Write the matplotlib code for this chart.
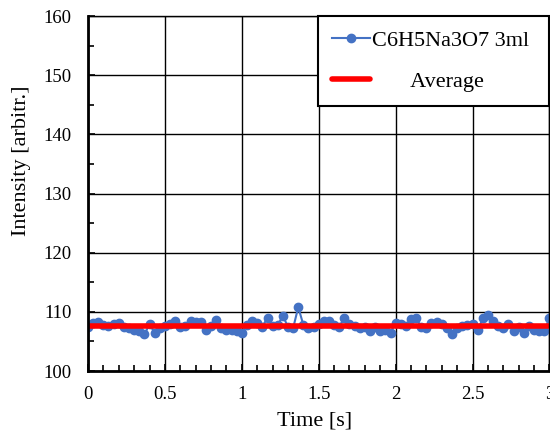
import numpy as np
import matplotlib.pyplot as plt
from matplotlib.ticker import MultipleLocator

plt.rcParams['font.family'] = ['Liberation Serif', 'DejaVu Serif']

time_s = [0.000, 0.033, 0.067, 0.100, 0.133, 0.167, 0.200, 0.233, 0.267, 0.300,
          0.333, 0.367, 0.400, 0.433, 0.467, 0.500, 0.533, 0.567, 0.600, 0.633,
          0.667, 0.700, 0.733, 0.767, 0.800, 0.833, 0.867, 0.900, 0.933, 0.967,
          1.000, 1.033, 1.067, 1.100, 1.133, 1.167, 1.200, 1.233, 1.267, 1.300,
          1.333, 1.367, 1.400, 1.433, 1.467, 1.500, 1.533, 1.567, 1.600, 1.633,
          1.667, 1.700, 1.733, 1.767, 1.800, 1.833, 1.867, 1.900, 1.933, 1.967,
          2.000, 2.033, 2.067, 2.100, 2.133, 2.167, 2.200, 2.233, 2.267, 2.300,
          2.333, 2.367, 2.400, 2.433, 2.467, 2.500, 2.533, 2.567, 2.600, 2.633,
          2.667, 2.700, 2.733, 2.767, 2.800, 2.833, 2.867, 2.900, 2.933, 2.967,
          3.000]
intensity = [107.5, 108.2, 108.3, 107.8, 107.7, 108.0, 108.1, 107.5, 107.2, 107.0,
             106.8, 106.2, 107.9, 106.5, 107.2, 107.6, 108.0, 108.4, 107.5, 107.7,
             108.4, 108.3, 108.3, 107.0, 107.6, 108.6, 107.2, 107.0, 107.0, 106.8,
             106.5, 107.8, 108.5, 108.2, 107.5, 109.0, 107.6, 107.8, 109.3, 107.5,
             107.2, 110.8, 107.8, 107.2, 107.4, 108.0, 108.5, 108.5, 107.8, 107.5,
             109.0, 108.0, 107.6, 107.2, 107.5, 106.8, 107.4, 106.7, 107.0, 106.5,
             108.2, 108.0, 107.6, 108.8, 108.9, 107.5, 107.2, 108.2, 108.3, 108.0,
             107.2, 106.3, 107.3, 107.6, 107.8, 107.9, 106.9, 108.9, 109.4, 108.4,
             107.6, 107.2, 107.9, 106.8, 107.4, 106.4, 107.6, 107.0, 106.8, 106.8,
             109.0]
average = 107.7
series_label = "C6H5Na3O7 3ml "
xticks = [0, 0.5, 1, 1.5, 2, 2.5, 3]
xtick_labels = ["0", "0.5", "1", "1.5", "2", "2.5", "3"]

fig = plt.figure(figsize=(5.5, 4.34), dpi=100)
ax = fig.add_axes([0.16, 0.145, 0.839, 0.818])

ax.plot(time_s, intensity, "-o", color="#4472C4", lw=1.5, ms=6, label=series_label)
ax.plot([time_s[0], time_s[-1]], [average, average], color="#FF0000", lw=4,
        solid_capstyle="round", label="       Average")

ax.set_xlim(0, 3)
ax.set_ylim(100, 160)
ax.set_xticks(xticks)
ax.set_xticklabels(xtick_labels)
ax.xaxis.set_minor_locator(MultipleLocator(0.1))
ax.yaxis.set_major_locator(MultipleLocator(10))
ax.yaxis.set_minor_locator(MultipleLocator(5))
ax.grid(True, which="major", color="black", lw=1)
ax.tick_params(axis="both", which="major", labelsize=13.5, direction="in", length=5,
               width=1.2)
ax.tick_params(axis="both", which="minor", direction="in", length=4, width=1.2)
ax.tick_params(axis="y", which="major", pad=12)
ax.tick_params(axis="x", which="major", pad=11)
for s in ax.spines.values():
    s.set_color("black")
    s.set_linewidth(1.0)
ax.spines["left"].set_linewidth(2)
ax.spines["bottom"].set_linewidth(2)

ax.set_xlabel("Time [s]", fontsize=16, va="center")
ax.xaxis.set_label_coords(0.49, -0.142)
ax.set_ylabel("Intensity [arbitr.]", fontsize=16, va="center")
ax.yaxis.set_label_coords(-0.145, 0.592)

leg = ax.legend(loc="upper right", fontsize=16, fancybox=False, framealpha=1,
                edgecolor="black", borderaxespad=0, handlelength=1.7,
                handletextpad=0.1, borderpad=0.65, labelspacing=0.9)
leg.get_frame().set_linewidth(1.5)

plt.savefig("out.png", dpi=100)
